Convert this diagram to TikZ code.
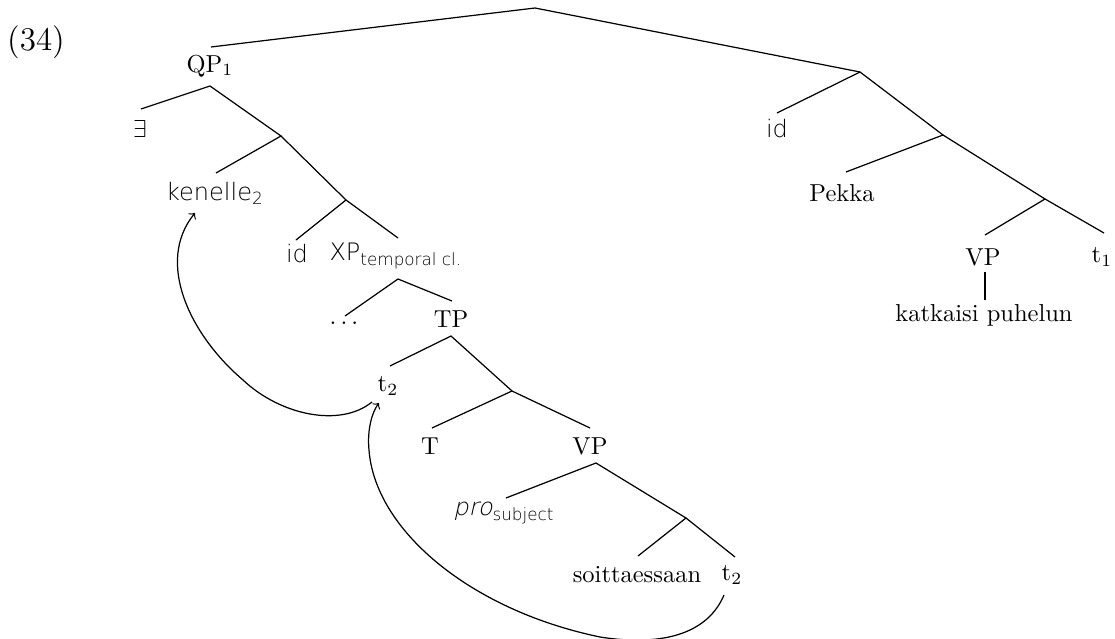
\documentclass[tikz,border=0pt]{standalone}
\usepackage{fontspec}
\newfontfamily\lsans{DejaVu Sans ExtraLight}
\newfontfamily\lsansit[FakeSlant=0.22]{DejaVu Sans ExtraLight}
\begin{document}
\begin{tikzpicture}[x=0.408pt,y=-0.408pt,
  lbl/.style={inner sep=0pt,anchor=center,font=\fontsize{10}{12}\selectfont},
  slbl/.style={inner sep=0pt,anchor=center,font=\fontsize{9.8}{12}\selectfont\lsans},
  edge/.style={line width=0.5pt},
  mv/.style={line width=0.5pt,->}]
\useasboundingbox (0,0) rectangle (1115,639);
% labels
\node[lbl,font=\fontsize{13.5}{16}\selectfont] (ex) at (36,42) {(34)};
\node[lbl] (qp) at (210,66) {QP$_1$};
\node[slbl] (exists) at (140,129) {$\exists$};
\node[slbl] (ken) at (215,193) {kenelle\textsubscript{2}};
\node[slbl] (idl) at (297,254) {id};
\node[slbl] (xp) at (396,256) {XP\textsubscript{temporal cl.}};
\node[lbl] (dots) at (344,323) {$\ldots$};
\node[lbl] (tp) at (451,319) {TP};
\node[lbl] (tt) at (388,386) {t$_2$};
\node[lbl] (T) at (430,446) {T};
\node[lbl] (vpl) at (590,446) {VP};
\node[slbl] (pro) at (504,513) {{\lsansit pro}\textsubscript{subject}};
\node[lbl] (soit) at (637,575) {soittaessaan};
\node[lbl] (tb) at (732,575) {t$_2$};
\node[slbl] (idr) at (777,129) {id};
\node[lbl] (pek) at (842,193) {Pekka};
\node[lbl] (vpr) at (983,257) {VP};
\node[lbl] (t1) at (1102,257) {t$_1$};
\node[lbl] (kat) at (984,315) {katkaisi puhelun};
% branch points and line ends
\coordinate (apex) at (535,8);
\coordinate (qpT) at (211,47);
\coordinate (rT) at (860,72);
\coordinate (qpB) at (210,86);
\coordinate (exE) at (141,109);
\coordinate (b1) at (281,136);
\coordinate (kenE) at (216,173);
\coordinate (b2) at (346,200);
\coordinate (idlE) at (296,240);
\coordinate (xpE) at (398,238);
\coordinate (xpB) at (398,279);
\coordinate (dotsE) at (345,316);
\coordinate (tpE) at (452,301);
\coordinate (tpB) at (451,336);
\coordinate (ttE) at (390,366);
\coordinate (b3) at (512,391);
\coordinate (TE) at (432,428);
\coordinate (vplE) at (590,428);
\coordinate (vplB) at (596,463);
\coordinate (proE) at (506,498);
\coordinate (b4) at (686,518);
\coordinate (soitE) at (638,556);
\coordinate (tbE) at (735,557);
\coordinate (idrE) at (777,113);
\coordinate (r1) at (943,135);
\coordinate (pekE) at (846,172);
\coordinate (r2) at (1045,199);
\coordinate (vprE) at (985,235);
\coordinate (t1E) at (1104,233);
\coordinate (vprB) at (985,272);
\coordinate (katE) at (985,300);
% edges
\draw[edge] (qpT) -- (apex) -- (rT);
\draw[edge] (exE) -- (qpB) -- (b1);
\draw[edge] (kenE) -- (b1) -- (b2);
\draw[edge] (idlE) -- (b2) -- (xpE);
\draw[edge] (dotsE) -- (xpB) -- (tpE);
\draw[edge] (ttE) -- (tpB) -- (b3);
\draw[edge] (TE) -- (b3) -- (vplE);
\draw[edge] (proE) -- (vplB) -- (b4);
\draw[edge] (soitE) -- (b4) -- (tbE);
\draw[edge] (idrE) -- (rT) -- (r1);
\draw[edge] (pekE) -- (r1) -- (r2);
\draw[edge] (vprE) -- (r2) -- (t1E);
\draw[edge] (vprB) -- (katE);
% movement arrows
\coordinate (m1s) at (372,402);
\coordinate (m1m) at (243,380);
\coordinate (m1e) at (195,213);
\draw[mv] (m1s) .. controls (340,428) and (280,415) .. (m1m)
  .. controls (190,335) and (155,262) .. (m1e);
\coordinate (m2s) at (724,595);
\coordinate (m2a) at (600,637);
\coordinate (m2b) at (369,450);
\coordinate (m2e) at (379,403);
\draw[mv] (m2s) .. controls (705,640) and (650,645) .. (m2a)
  .. controls (470,610) and (375,530) .. (m2b)
  .. controls (367,430) and (372,412) .. (m2e);
\end{tikzpicture}
\end{document}
